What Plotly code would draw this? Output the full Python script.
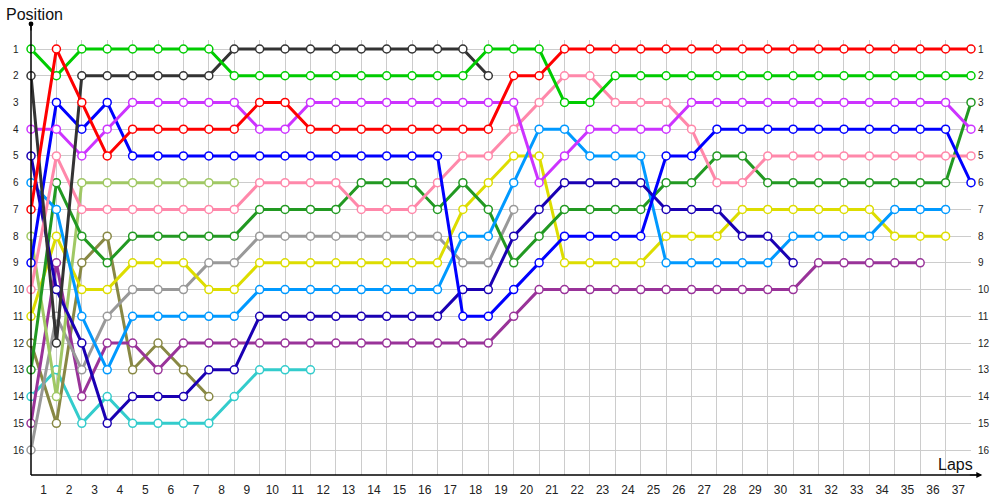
import plotly.graph_objects as go

# ---- data: race positions per lap (lap 0 = start grid) ----
red = [7, 1, 3, 5, 4, 4, 4, 4, 4, 3, 3, 4, 4, 4, 4, 4, 4, 4, 4, 2, 2, 1, 1, 1, 1,
       1, 1, 1, 1, 1, 1, 1, 1, 1, 1, 1, 1, 1]
lime = [1, 2, 1, 1, 1, 1, 1, 1, 2, 2, 2, 2, 2, 2, 2, 2, 2, 2, 1, 1, 1, 3, 3, 2, 2,
        2, 2, 2, 2, 2, 2, 2, 2, 2, 2, 2, 2, 2]
darkgray = [2, 12, 2, 2, 2, 2, 2, 2, 1, 1, 1, 1, 1, 1, 1, 1, 1, 1, 2]
violet = [4, 4, 5, 4, 3, 3, 3, 3, 3, 4, 4, 3, 3, 3, 3, 3, 3, 3, 3, 3, 6, 5, 4, 4, 4,
          4, 3, 3, 3, 3, 3, 3, 3, 3, 3, 3, 3, 4]
blue = [9, 3, 4, 3, 5, 5, 5, 5, 5, 5, 5, 5, 5, 5, 5, 5, 5, 11, 11, 10, 9, 8, 8, 8, 8,
        5, 5, 4, 4, 4, 4, 4, 4, 4, 4, 4, 4, 6]
indigo = [5, 10, 12, 15, 14, 14, 14, 13, 13, 11, 11, 11, 11, 11, 11, 11, 11, 10, 10, 8,
          7, 6, 6, 6, 6, 7, 7, 7, 8, 8, 9]
lightblue = [6, 7, 11, 13, 11, 11, 11, 11, 11, 10, 10, 10, 10, 10, 10, 10, 10, 8, 8, 6,
             4, 4, 5, 5, 5, 9, 9, 9, 9, 9, 8, 8, 8, 8, 7, 7, 7]
yellowgreen = [8, 14, 6, 6, 6, 6, 6, 6, 6]
pink = [10, 5, 7, 7, 7, 7, 7, 7, 7, 6, 6, 6, 6, 7, 7, 7, 6, 5, 5, 4, 3, 2, 2, 3, 3,
        3, 4, 6, 6, 5, 5, 5, 5, 5, 5, 5, 5, 5]
darkgreen = [13, 6, 8, 9, 8, 8, 8, 8, 8, 7, 7, 7, 7, 6, 6, 6, 7, 6, 7, 9, 8, 7, 7, 7, 7,
             6, 6, 5, 5, 6, 6, 6, 6, 6, 6, 6, 6, 3]
gray = [16, 11, 13, 11, 10, 10, 10, 9, 9, 8, 8, 8, 8, 8, 8, 8, 8, 9, 9, 7]
yellow = [11, 8, 10, 10, 9, 9, 9, 10, 10, 9, 9, 9, 9, 9, 9, 9, 9, 7, 6, 5, 5, 9, 9, 9, 9,
          8, 8, 8, 7, 7, 7, 7, 7, 7, 8, 8, 8]
olive = [12, 15, 9, 8, 13, 12, 13, 14]
turquoise = [14, 13, 15, 14, 15, 15, 15, 15, 14, 13, 13, 13]
magenta = [15, 9, 14, 12, 12, 13, 12, 12, 12, 12, 12, 12, 12, 12, 12, 12, 12, 12, 12, 11,
           10, 10, 10, 10, 10, 10, 10, 10, 10, 10, 10, 9, 9, 9, 9, 9]

series = [
    ("turquoise", turquoise, "#33cccc"),
    ("olive", olive, "#888844"),
    ("magenta", magenta, "#993399"),
    ("gray", gray, "#999999"),
    ("yellow", yellow, "#dddd00"),
    ("yellowgreen", yellowgreen, "#a0c864"),
    ("darkgreen", darkgreen, "#229922"),
    ("lightblue", lightblue, "#0099ff"),
    ("indigo", indigo, "#1a00b3"),
    ("pink", pink, "#ff88aa"),
    ("blue", blue, "#0000ff"),
    ("violet", violet, "#cc33ff"),
    ("darkgray", darkgray, "#333333"),
    ("lime", lime, "#00cc00"),
    ("red", red, "#ff0000"),
]

lap_labels = [str(i) for i in range(1, 38)]
pos_labels = [str(i) for i in range(1, 17)]

W, H = 1000, 500
L, R_px = 31, 970.7        # plot area x-extent in px (lap 0 .. lap 37)
T, B_px = 40, 475          # plot area y-extent in px
X_MAX = 37
Y_TOP, Y_BOT = 0.663, 16.935

fig = go.Figure()
for name, vals, col in series:
    fig.add_trace(go.Scatter(
        x=list(range(len(vals))), y=vals, mode="lines+markers", name=name,
        line=dict(color=col, width=3),
        marker=dict(size=8, color="white", line=dict(color=col, width=1.5)),
        cliponaxis=False, hoverinfo="skip", showlegend=False,
    ))
# empty trace to host the label axis
fig.add_trace(go.Scatter(x=[], y=[], xaxis="x2", yaxis="y", showlegend=False,
                         hoverinfo="skip"))

pw = R_px - L
ph = B_px - T

def px_x(p):
    return (p - L) / pw

def px_y(p):
    return (B_px - p) / ph

annotations = []
# left and right position labels
for i, t in enumerate(pos_labels):
    for xp in (11.5, 975.5):
        annotations.append(dict(
            text=t, xref="paper", yref="y", x=px_x(xp), y=i + 1,
            xanchor="left", yanchor="middle", showarrow=False,
            font=dict(family="Liberation Sans, Arial, sans-serif", size=10, color="#222")))
annotations += [
    dict(text="Position", xref="paper", yref="paper", x=px_x(4), y=px_y(15),
         xanchor="left", yanchor="middle", showarrow=False,
         font=dict(family="Liberation Sans, Arial, sans-serif", size=16, color="#111")),
    dict(text="Laps", xref="paper", yref="paper", x=px_x(975), y=px_y(464),
         xanchor="right", yanchor="middle", showarrow=False,
         font=dict(family="Liberation Sans, Arial, sans-serif", size=16, color="#111")),
    # x-axis arrow
    dict(text="", xref="paper", yref="paper", x=px_x(982), y=0, ax=-14, ay=0,
         showarrow=True, arrowhead=2, arrowsize=1, arrowwidth=1.2, arrowcolor="#000"),
    # y-axis arrow
    dict(text="", xref="paper", yref="paper", x=0, y=px_y(24), ax=0, ay=8,
         showarrow=True, arrowhead=6, arrowsize=1, arrowwidth=1.2, arrowcolor="#000"),
]

shapes = [
    dict(type="line", xref="paper", yref="paper", x0=0, x1=0, y0=0, y1=px_y(25),
         line=dict(color="#000", width=1.5)),
    dict(type="line", xref="paper", yref="paper", x0=0, x1=px_x(980), y0=0, y1=0,
         line=dict(color="#000", width=1.5)),
]

fig.update_layout(
    width=W, height=H,
    margin=dict(l=L, r=W - R_px, t=T, b=H - B_px, pad=0, autoexpand=False),
    paper_bgcolor="white", plot_bgcolor="white",
    showlegend=False,
    xaxis=dict(range=[0, X_MAX], tickmode="linear", tick0=0, dtick=1,
               showgrid=True, gridcolor="#cccccc", gridwidth=1, automargin=False,
               showticklabels=False, zeroline=False, showline=False, ticks=""),
    xaxis2=dict(range=[0, X_MAX], overlaying="x", anchor="y", side="bottom",
                tickmode="array", tickvals=[i + 0.5 for i in range(37)],
                ticktext=lap_labels, showgrid=False, zeroline=False, automargin=False,
                showline=False, ticks="", ticklabelstandoff=6,
                tickfont=dict(family="Liberation Sans, Arial, sans-serif", size=12,
                              color="#222")),
    yaxis=dict(range=[Y_BOT, Y_TOP], tickmode="linear", tick0=0, dtick=1,
               showgrid=True, gridcolor="#cccccc", gridwidth=1, automargin=False,
               showticklabels=False, zeroline=False, showline=False, ticks=""),
    annotations=annotations,
    shapes=shapes,
)

fig.write_html("out.html", config={"displayModeBar": False},
               post_script="document.body.style.margin='0';document.body.style.overflow='hidden';")
